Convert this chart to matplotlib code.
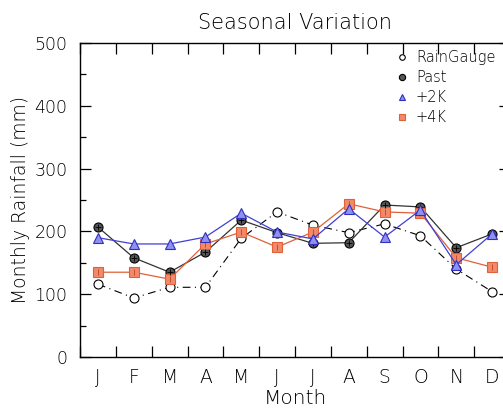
import matplotlib
matplotlib.use("Agg")
import matplotlib.pyplot as plt
from matplotlib.lines import Line2D
import numpy as np

months = ["J", "F", "M", "A", "M", "J", "J", "A", "S", "O", "N", "D"]
raingauge = [116, 94, 111, 111, 189, 231, 210, 198, 212, 193, 140, 104]
past = [207, 158, 135, 167, 218, 198, 181, 182, 242, 239, 174, 196]
plus2k = [190, 180, 180, 191, 229, 199, 188, 236, 191, 234, 147, 196]
plus4k = [135, 135, 124, 180, 199, 175, 199, 244, 231, 229, 158, 143]
yticks = [0, 100, 200, 300, 400, 500]

plt.rcParams["font.family"] = ["DejaVu Sans"]
plt.rcParams["font.weight"] = "light"
plt.rcParams["axes.titleweight"] = "light"
plt.rcParams["axes.labelweight"] = "light"

fig = plt.figure(figsize=(5.03, 4.12), dpi=100)
# axes from x=80 to x=510 px, y=43 to y=357 px
ax = fig.add_axes([80 / 503, (412 - 357) / 412, 430 / 503, 314 / 412])
x = np.arange(len(months)) + 0.5

ax.plot(x, raingauge, color="black", lw=0.8, ls=(0, (7, 4, 1, 4)),
        marker="o", ms=6.5, mfc="white", mec="black", mew=0.8, zorder=3)
ax.plot(x, past, color="#333333", lw=0.9, marker="o", ms=6.5,
        mfc="#555555", mec="black", mew=0.8, zorder=4)
ax.plot(x, past, ls="none", marker="+", ms=5, mec="black", mew=0.6, zorder=5)
ax.plot(x, plus4k, color="#E0603A", lw=0.9, marker="s", ms=6.5,
        mfc="#F08A6A", mec="#E0603A", mew=0.8, zorder=4)
ax.plot(x, plus4k, ls="none", marker="|", ms=4, mec="#C04020", mew=0.6, zorder=5)
ax.plot(x, plus2k, color="#4040D0", lw=0.9, marker="^", ms=7,
        mfc="#9090F0", mec="#3030C0", mew=0.8, zorder=5)

ax.set_xlim(0, 12)
ax.set_ylim(0, 500)
ax.set_xticks(np.arange(0, 13))
ax.set_xticklabels([])
ax.set_xticks(x, minor=True)
ax.set_xticklabels(months, minor=True, fontsize=13.5)
ax.tick_params(axis="x", which="minor", length=0, pad=8)
ax.set_yticks(yticks)
ax.set_yticklabels([str(v) for v in yticks], fontsize=12.5)
ax.set_yticks(np.arange(50, 500, 100), minor=True)
ax.tick_params(axis="both", which="major", direction="in", length=8,
               width=0.9, top=True, right=True)
ax.tick_params(axis="y", which="minor", direction="in", length=4,
               width=0.9, right=True)
ax.tick_params(axis="y", which="major", pad=9)
for s in ax.spines.values():
    s.set_linewidth(1.0)

ax.set_title("Seasonal Variation", fontsize=15, pad=10)
ax.set_xlabel("Month", fontsize=14.5, labelpad=1)
ax.set_ylabel("Monthly Rainfall (mm)", fontsize=13.5, labelpad=3)

handles = [
    Line2D([], [], ls="none", marker="o", ms=4, mfc="white", mec="black", mew=0.8),
    Line2D([], [], ls="none", marker="o", ms=4.5, mfc="#555555", mec="black", mew=0.8),
    Line2D([], [], ls="none", marker="^", ms=5, mfc="#9090F0", mec="#3030C0", mew=0.8),
    Line2D([], [], ls="none", marker="s", ms=4.5, mfc="#F08A6A", mec="#E0603A", mew=0.8),
]
ax.legend(handles, ["RainGauge", "Past", "+2K", "+4K"], frameon=False,
          loc="upper left", bbox_to_anchor=((397 - 80) / 430, (357 - 50) / 314),
          fontsize=10.5, handlelength=0.7, handletextpad=0.6, labelspacing=0.35,
          borderpad=0, borderaxespad=0)

fig.savefig("out.png", dpi=100)
